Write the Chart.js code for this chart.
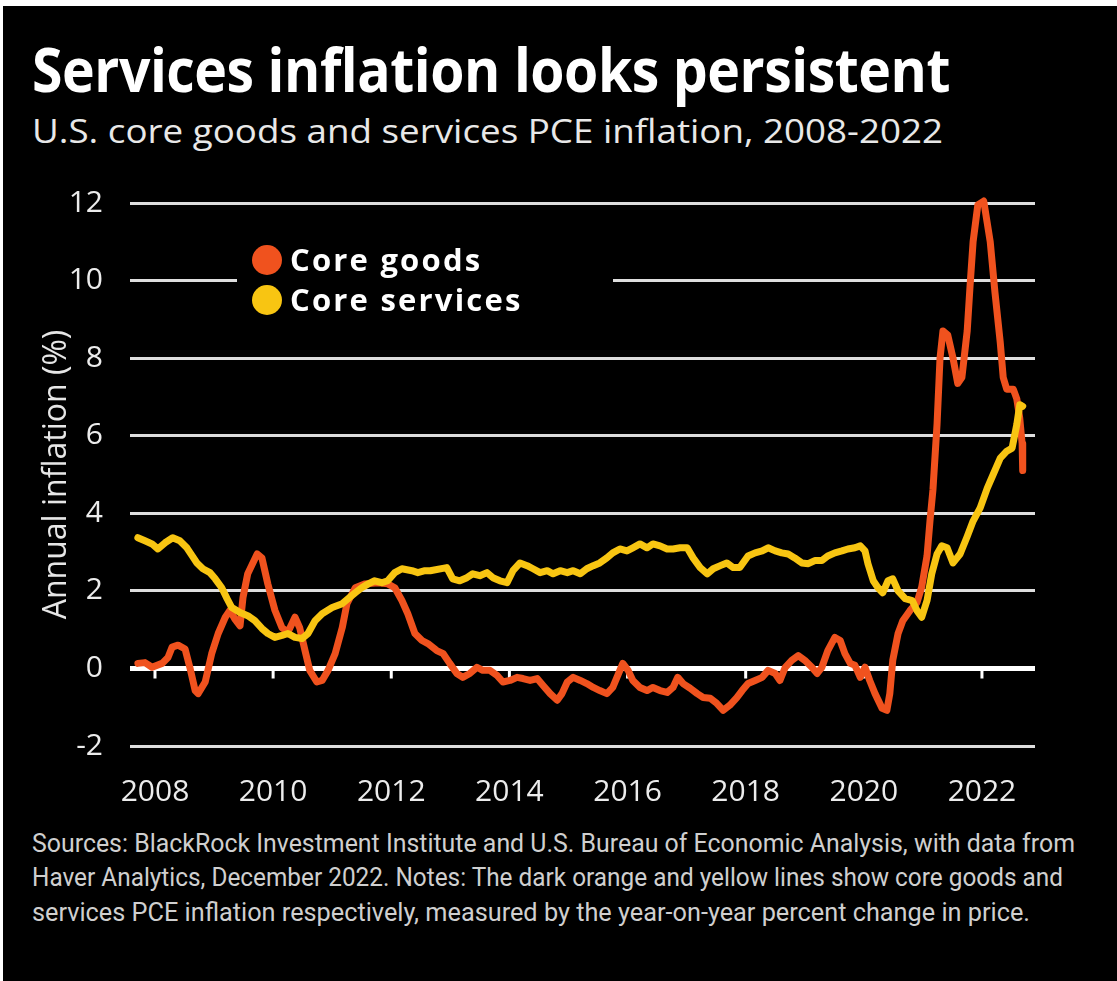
<!DOCTYPE html>
<html>
<head>
<meta charset="utf-8">
<title>Services inflation looks persistent</title>
<script src="https://cdn.jsdelivr.net/npm/chart.js@4.4.0/dist/chart.umd.min.js"></script>
<style>
  html, body { margin: 0; padding: 0; background: #fff; }
  body { width: 1117px; height: 981px; position: relative; overflow: hidden; }
  #card { position: absolute; left: 3px; top: 6px; right: 0; bottom: 0; background: #000; }
  .txt { position: absolute; left: 32px; white-space: nowrap; transform-origin: 0 0; line-height: 1; }
  #title { top: 27px; font: 700 61px 'Open Sans', sans-serif; color: #fff; letter-spacing: -0.5px; }
  #subtitle { top: 109px; font: 400 32px 'Open Sans', sans-serif; color: #e8e8e8; }
  .note { font: 400 25px 'Roboto', sans-serif; color: #cfcfcf; }
  #chartBox { position: absolute; left: 0; top: 158px; }
</style>
</head>
<body>
<div id="card"></div>
<div class="txt" id="title">Services inflation looks persistent</div>
<div class="txt" id="subtitle">U.S. core goods and services PCE inflation, 2008-2022</div>
<div id="chartBox"><canvas id="myChart" width="1080" height="652"></canvas></div>
<div class="txt note" id="note1" style="top:829px">Sources: BlackRock Investment Institute and U.S. Bureau of Economic Analysis, with data from</div>
<div class="txt note" id="note2" style="top:863px">Haver Analytics, December 2022. Notes: The dark orange and yellow lines show core goods and</div>
<div class="txt note" id="note3" style="top:898px">services PCE inflation respectively, measured by the year-on-year percent change in price.</div>

<script>
'use strict';

const yearTicks = [2008, 2010, 2012, 2014, 2016, 2018, 2020, 2022];
const valueTicks = [-2, 0, 2, 4, 6, 8, 10, 12];

// core goods PCE, y/y %
const goodsYears = [
  2007.71, 2007.83, 2007.95, 2008.12, 2008.22, 2008.29, 2008.39, 2008.51, 2008.59, 2008.68,
  2008.73, 2008.85, 2008.96, 2009.07, 2009.19, 2009.27, 2009.35, 2009.44, 2009.49, 2009.57,
  2009.73, 2009.81, 2009.91, 2010.03, 2010.15, 2010.25, 2010.37, 2010.45, 2010.54, 2010.62,
  2010.74, 2010.83, 2010.93, 2011.05, 2011.17, 2011.25, 2011.39, 2011.56, 2011.78, 2011.94,
  2012.06, 2012.18, 2012.28, 2012.40, 2012.52, 2012.62, 2012.77, 2012.88, 2012.99, 2013.11,
  2013.21, 2013.33, 2013.45, 2013.55, 2013.67, 2013.79, 2013.89, 2014.01, 2014.13, 2014.23,
  2014.35, 2014.47, 2014.57, 2014.69, 2014.81, 2014.89, 2014.98, 2015.08, 2015.20, 2015.31,
  2015.42, 2015.53, 2015.65, 2015.75, 2015.87, 2015.92, 2016.01, 2016.09, 2016.21, 2016.33,
  2016.43, 2016.55, 2016.67, 2016.77, 2016.85, 2016.94, 2017.06, 2017.18, 2017.28, 2017.40,
  2017.51, 2017.62, 2017.73, 2017.85, 2017.94, 2018.04, 2018.16, 2018.28, 2018.38, 2018.50,
  2018.58, 2018.67, 2018.78, 2018.89, 2019.00, 2019.12, 2019.21, 2019.29, 2019.39, 2019.51,
  2019.60, 2019.68, 2019.77, 2019.85, 2019.94, 2020.02, 2020.10, 2020.19, 2020.31, 2020.39,
  2020.44, 2020.49, 2020.58, 2020.66, 2020.78, 2020.90, 2020.98, 2021.07, 2021.12, 2021.17,
  2021.24, 2021.29, 2021.34, 2021.42, 2021.51, 2021.59, 2021.66, 2021.75, 2021.80, 2021.85,
  2021.93, 2022.03, 2022.14, 2022.22, 2022.31, 2022.36, 2022.42, 2022.53, 2022.59, 2022.64,
  2022.68, 2022.69
];
const goodsValues = [
  0.13, 0.15, 0.03, 0.13, 0.28, 0.55, 0.60, 0.50, 0.03, -0.57,
  -0.65, -0.35, 0.38, 0.90, 1.32, 1.50, 1.28, 1.10, 1.83, 2.44,
  2.95, 2.85, 2.18, 1.50, 1.05, 0.93, 1.32, 1.05, 0.46, -0.05,
  -0.35, -0.31, -0.05, 0.38, 1.05, 1.67, 2.08, 2.18, 2.21, 2.18,
  2.08, 1.75, 1.41, 0.90, 0.72, 0.64, 0.46, 0.38, 0.13, -0.13,
  -0.23, -0.13, 0.03, -0.05, -0.05, -0.18, -0.35, -0.31, -0.23, -0.26,
  -0.31, -0.26, -0.44, -0.65, -0.82, -0.65, -0.35, -0.23, -0.31, -0.39,
  -0.49, -0.57, -0.65, -0.49, -0.05, 0.13, -0.05, -0.31, -0.49, -0.57,
  -0.49, -0.57, -0.62, -0.49, -0.23, -0.39, -0.51, -0.65, -0.75, -0.77,
  -0.90, -1.08, -0.95, -0.75, -0.57, -0.39, -0.31, -0.23, -0.05, -0.13,
  -0.31, 0.03, 0.21, 0.33, 0.21, 0.03, -0.13, 0.03, 0.46, 0.80,
  0.72, 0.38, 0.13, 0.08, -0.23, 0.03, -0.31, -0.65, -1.03, -1.08,
  -0.65, 0.21, 0.90, 1.23, 1.49, 1.70, 2.10, 2.90, 3.80, 4.60,
  6.30, 8.00, 8.70, 8.60, 8.00, 7.35, 7.50, 8.70, 9.90, 11.00,
  11.95, 12.05, 11.00, 9.70, 8.40, 7.50, 7.20, 7.20, 6.95, 6.45,
  5.80, 5.10
];

// core services PCE, y/y %
const servicesYears = [
  2007.71, 2007.83, 2007.95, 2008.05, 2008.17, 2008.30, 2008.42, 2008.54, 2008.63, 2008.71,
  2008.81, 2008.93, 2009.02, 2009.13, 2009.22, 2009.30, 2009.44, 2009.57, 2009.69, 2009.81,
  2009.91, 2010.03, 2010.15, 2010.25, 2010.37, 2010.49, 2010.59, 2010.71, 2010.83, 2011.00,
  2011.17, 2011.27, 2011.39, 2011.50, 2011.61, 2011.72, 2011.84, 2011.94, 2012.06, 2012.18,
  2012.35, 2012.45, 2012.57, 2012.66, 2012.94, 2013.04, 2013.16, 2013.28, 2013.38, 2013.50,
  2013.62, 2013.72, 2013.84, 2013.96, 2014.06, 2014.18, 2014.30, 2014.40, 2014.52, 2014.64,
  2014.74, 2014.86, 2014.98, 2015.08, 2015.20, 2015.31, 2015.42, 2015.53, 2015.65, 2015.75,
  2015.87, 2015.99, 2016.09, 2016.21, 2016.33, 2016.43, 2016.55, 2016.67, 2016.77, 2016.89,
  2017.01, 2017.11, 2017.23, 2017.35, 2017.45, 2017.57, 2017.68, 2017.79, 2017.90, 2018.04,
  2018.16, 2018.28, 2018.38, 2018.50, 2018.61, 2018.72, 2018.83, 2018.95, 2019.06, 2019.17,
  2019.29, 2019.39, 2019.51, 2019.63, 2019.73, 2019.85, 2019.94, 2020.02, 2020.07, 2020.16,
  2020.24, 2020.32, 2020.41, 2020.49, 2020.58, 2020.70, 2020.82, 2020.90, 2020.98, 2021.07,
  2021.15, 2021.24, 2021.32, 2021.41, 2021.51, 2021.63, 2021.75, 2021.85, 2021.97, 2022.09,
  2022.19, 2022.31, 2022.42, 2022.51, 2022.59, 2022.64, 2022.69
];
const servicesValues = [
  3.37, 3.29, 3.21, 3.08, 3.24, 3.37, 3.29, 3.11, 2.90, 2.72,
  2.57, 2.47, 2.31, 2.08, 1.80, 1.57, 1.44, 1.36, 1.23, 1.03,
  0.90, 0.80, 0.85, 0.90, 0.80, 0.77, 0.90, 1.23, 1.41, 1.57,
  1.67, 1.80, 1.95, 2.08, 2.18, 2.26, 2.21, 2.26, 2.47, 2.57,
  2.52, 2.47, 2.52, 2.52, 2.60, 2.31, 2.26, 2.34, 2.44, 2.39,
  2.47, 2.34, 2.26, 2.21, 2.52, 2.72, 2.65, 2.57, 2.47, 2.52,
  2.44, 2.52, 2.47, 2.52, 2.44, 2.57, 2.65, 2.72, 2.85, 2.98,
  3.08, 3.03, 3.11, 3.21, 3.11, 3.21, 3.16, 3.08, 3.08, 3.11,
  3.11, 2.85, 2.60, 2.44, 2.57, 2.65, 2.72, 2.60, 2.60, 2.90,
  2.98, 3.03, 3.11, 3.03, 2.98, 2.95, 2.85, 2.72, 2.70, 2.78,
  2.78, 2.90, 2.98, 3.03, 3.08, 3.11, 3.16, 3.03, 2.70, 2.26,
  2.08, 1.95, 2.26, 2.31, 2.00, 1.80, 1.75, 1.49, 1.32, 1.75,
  2.44, 2.95, 3.16, 3.11, 2.72, 2.95, 3.40, 3.80, 4.14, 4.65,
  5.00, 5.42, 5.60, 5.68, 6.29, 6.80, 6.76
];

const goodsColor = '#f0521e';
const servicesColor = '#f8c512';

function toPoints(xs, ys) {
  return xs.map((x, i) => ({ x: x, y: ys[i] }));
}

// black box with dot + bold label for each series
const insetLegend = {
  id: 'insetLegend',
  afterDraw(chart) {
    const ctx = chart.ctx;
    const sets = chart.data.datasets.slice().reverse();
    ctx.save();
    ctx.fillStyle = '#000';
    ctx.fillRect(237, 84, 376, 78);
    ctx.font = '700 31px "Open Sans"';
    ctx.letterSpacing = '2.2px';
    ctx.textBaseline = 'alphabetic';
    sets.forEach((ds, i) => {
      const cy = 102 + i * 40;
      ctx.fillStyle = ds.borderColor;
      ctx.beginPath();
      ctx.arc(267, cy, 15, 0, Math.PI * 2);
      ctx.fill();
      ctx.fillStyle = '#fff';
      ctx.fillText(ds.label, 290, cy + 11);
    });
    ctx.restore();
  }
};

// short white ticks hanging under the zero line
const zeroTicks = {
  id: 'zeroTicks',
  beforeDatasetsDraw(chart) {
    const ctx = chart.ctx;
    const xs = chart.scales.x, ys = chart.scales.y;
    const y0 = ys.getPixelForValue(0);
    ctx.save();
    ctx.strokeStyle = '#fff';
    ctx.lineWidth = 3;
    ctx.beginPath();
    yearTicks.forEach(v => {
      const px = xs.getPixelForValue(v);
      ctx.moveTo(px, y0);
      ctx.lineTo(px, y0 + 10);
    });
    ctx.stroke();
    ctx.restore();
  }
};

const tickFont = { family: 'Open Sans', size: 30 };

const ctx = document.getElementById('myChart').getContext('2d');
window.chart = new Chart(ctx, {
  type: 'line',
  data: {
    datasets: [{
      label: 'Core services',
      data: toPoints(servicesYears, servicesValues),
      borderColor: servicesColor,
      borderWidth: 7,
      pointRadius: 0,
      borderJoinStyle: 'round',
      borderCapStyle: 'round',
      clip: false
    }, {
      label: 'Core goods',
      data: toPoints(goodsYears, goodsValues),
      borderColor: goodsColor,
      borderWidth: 7,
      pointRadius: 0,
      borderJoinStyle: 'round',
      borderCapStyle: 'round',
      clip: false
    }]
  },
  options: {
    responsive: false,
    devicePixelRatio: 1,
    animation: false,
    layout: { padding: { top: 0, right: 45, left: 0, bottom: 0 } },
    plugins: { legend: { display: false }, tooltip: { enabled: false } },
    scales: {
      x: {
        type: 'linear',
        min: 2007.577,
        max: 2022.898,
        afterBuildTicks: s => { s.ticks = yearTicks.map(v => ({ value: v })); },
        afterFit: s => { s.height = 64; },
        grid: { display: false, drawTicks: false },
        border: { display: false },
        ticks: {
          color: '#ececec', font: tickFont, padding: 28,
          maxRotation: 0, autoSkip: false,
          callback: v => String(v)
        }
      },
      y: {
        min: -2,
        max: 12,
        afterBuildTicks: s => { s.ticks = valueTicks.map(v => ({ value: v })); },
        afterFit: s => { s.width = 130; },
        grid: {
          color: c => c.tick.value === 0 ? '#ffffff' : '#dedede',
          lineWidth: c => c.tick.value === 0 ? 5 : 3,
          drawTicks: false
        },
        border: { display: false },
        ticks: { color: '#ececec', font: tickFont, padding: 27, callback: v => String(v) },
        title: {
          display: true,
          text: 'Annual inflation (%)',
          color: '#e6e6e6',
          font: { family: 'Open Sans', size: 32 },
          padding: { top: 38, bottom: 0 }
        }
      }
    }
  },
  plugins: [zeroTicks, insetLegend]
});

// squeeze/stretch the text blocks to their column widths
function fitWidth(id, w) {
  const el = document.getElementById(id);
  const natural = el.getBoundingClientRect().width;
  el.style.transform = 'scaleX(' + (w / natural) + ')';
}
fitWidth('title', 918);
fitWidth('subtitle', 911);
fitWidth('note1', 1043);
fitWidth('note2', 1031);
fitWidth('note3', 998);
</script>
</body>
</html>
